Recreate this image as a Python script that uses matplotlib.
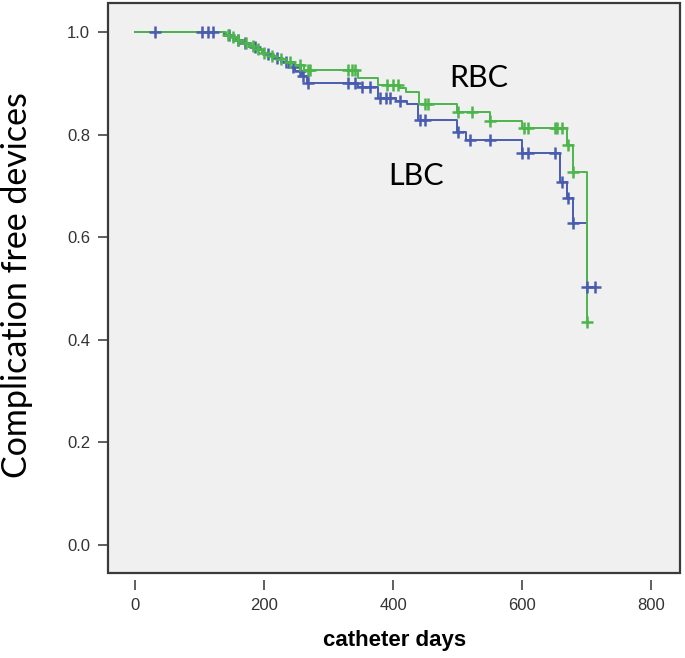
import numpy as np
import matplotlib.pyplot as plt
from matplotlib.patches import Rectangle

# Kaplan-Meier steps: event day, survival after event
rbc_days = [140, 148, 157, 166, 176, 186, 196, 207, 220, 234, 248, 262,
            346, 377, 411, 419, 440, 499, 550, 600, 670, 679, 701]
rbc_surv = [0.996, 0.991, 0.985, 0.979, 0.973, 0.967, 0.960, 0.954, 0.948, 0.942, 0.936, 0.927,
            0.912, 0.897, 0.891, 0.883, 0.860, 0.844, 0.828, 0.813, 0.780, 0.727, 0.435]
rbc_cens = [143, 152, 160, 172, 182, 190, 200, 212, 226, 240, 255, 268, 271,
            330, 336, 341, 391, 400, 408, 450, 454, 501, 522, 550,
            602, 609, 651, 654, 662, 671, 679, 701]

lbc_days = [138, 146, 155, 165, 176, 188, 200, 213, 226, 238, 248, 258, 266,
            346, 377, 405, 422, 439, 499, 513, 600, 659, 670, 679, 701]
lbc_surv = [0.996, 0.991, 0.985, 0.979, 0.972, 0.965, 0.958, 0.950, 0.942, 0.933, 0.924, 0.915, 0.901,
            0.893, 0.873, 0.867, 0.860, 0.830, 0.805, 0.790, 0.764, 0.708, 0.678, 0.628, 0.503]
lbc_cens = [31, 104, 113, 121, 145, 160, 170, 185, 205, 220, 233, 245, 255, 260, 268,
            330, 341, 352, 364, 380, 388, 395, 411, 442, 450, 501, 519, 550,
            600, 609, 651, 662, 671, 679, 701, 713]

green = '#4cb54c'
blue = '#4a5cb0'


def km(days, surv, end):
    x = np.r_[0, days, end]
    y = np.r_[1.0, surv, surv[-1]]
    return x, y


def at(days, surv, t):
    x = np.r_[0, days]
    y = np.r_[1.0, surv]
    return y[np.searchsorted(x, t, side='right') - 1]


fig = plt.figure(figsize=(6.85, 6.58), dpi=100)
ax = fig.add_axes([0.158, 0.129, 0.835, 0.866])
ax.set_facecolor('#f0f0f0')

bx, by = km(lbc_days, lbc_surv, 713)
gx, gy = km(rbc_days, rbc_surv, 701)
ax.step(bx, by, where='post', color=blue, lw=1.4, zorder=2)
ax.step(gx, gy, where='post', color=green, lw=1.4, zorder=3)
ax.plot(lbc_cens, [at(lbc_days, lbc_surv, t) for t in lbc_cens], '+', color=blue,
        ms=8, mew=1.8, zorder=4)
ax.plot(rbc_cens, [at(rbc_days, rbc_surv, t) for t in rbc_cens], '+', color=green,
        ms=8, mew=1.8, zorder=5)

ax.text(532, 0.912, 'RBC', fontsize=22, family='Lato', ha='center', va='center')
ax.text(436, 0.719, 'LBC', fontsize=22, family='Lato', ha='center', va='center')

ax.set_xlim(-42, 845)
ax.set_ylim(-0.055, 1.057)
ax.set_xticks([0, 200, 400, 600, 800])
ax.set_yticks([0.0, 0.2, 0.4, 0.6, 0.8, 1.0])
ax.set_yticklabels(['0.0', '0.2', '0.4', '0.6', '0.8', '1.0'])

# box frame, x ticks sit a little below it
for s in ax.spines.values():
    s.set_visible(False)
ax.spines['bottom'].set_position(('outward', 5))
ax.add_patch(Rectangle((0, 0), 1, 1, transform=ax.transAxes, fill=False,
                       ec='#3a3a3a', lw=1.6, clip_on=False, zorder=6))
ax.tick_params(direction='out', length=7, width=1.2, color='#444444',
               labelcolor='#333333', labelsize=12, pad=6)
for lab in ax.get_xticklabels() + ax.get_yticklabels():
    lab.set_family('Liberation Sans')

ax.set_xlabel('catheter days', fontsize=16, fontweight='bold',
              family='Liberation Sans', labelpad=12)
ax.set_ylabel('Complication free devices', fontsize=24.5, family='Lato')
ax.yaxis.set_label_coords(-0.131, 0.505)

fig.savefig('out.png', dpi=100)
